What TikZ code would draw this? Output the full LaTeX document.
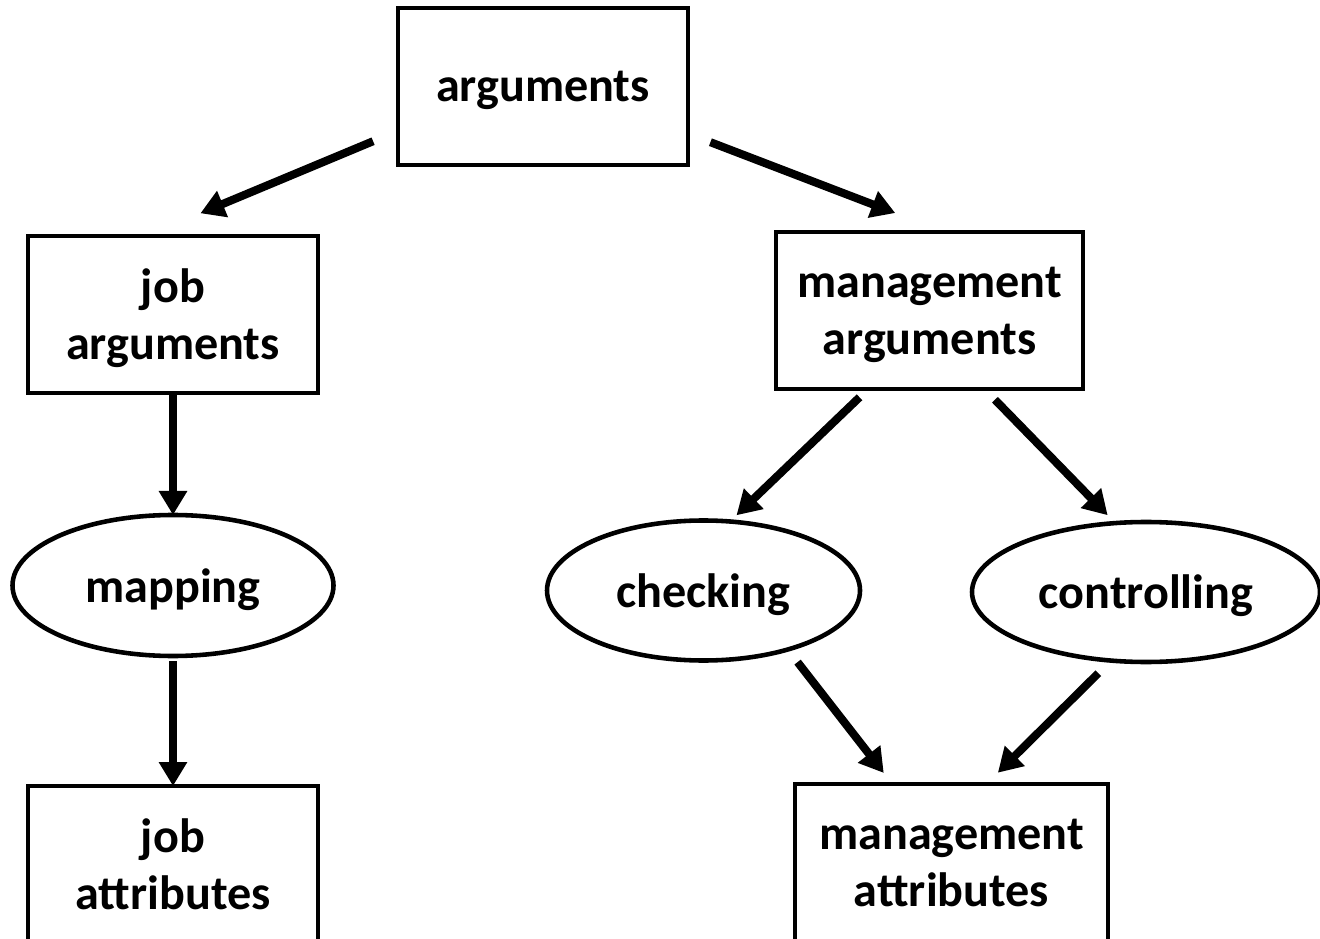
\documentclass[tikz,border=0pt]{standalone}
\usepackage{fontspec}
\setmainfont{Carlito}
\usetikzlibrary{arrows.meta,shapes.geometric}

\begin{document}
\begin{tikzpicture}[font=\bfseries\fontsize{13.7}{16.2}\selectfont,
  box/.style={draw,line width=1.3pt,minimum width=2.9cm,minimum height=1.57cm,
    align=center,inner sep=1pt,outer sep=0pt,text depth=0pt},
  oval/.style={draw,ellipse,line width=1.3pt,minimum width=3.2cm,minimum height=1.4cm,
    inner sep=1pt,outer sep=0pt,text depth=0pt},
  arr/.style={-{Triangle[length=2.4mm,width=2.7mm]},line width=2.3pt}]
  \useasboundingbox (0,0) rectangle (13.2,-9.39);
  % top
  \node[box] (args) at (5.43,-0.865) {arguments};
  % second row
  \node[box] (jobargs) at (1.73,-3.145) {job\\arguments};
  \node[box,minimum width=3.07cm] (mgmtargs) at (9.295,-3.105) {management\\arguments};
  % ovals
  \node[oval,minimum width=3.21cm,minimum height=1.41cm] (mapping) at (1.73,-5.855) {mapping};
  \node[oval,minimum width=3.13cm] (checking) at (7.035,-5.905) {checking};
  \node[oval,minimum width=3.48cm] (controlling) at (11.46,-5.92) {controlling};
  % bottom row, cut by the page
  \node[box] (jobattr) at (1.73,-8.645) {job\\attributes};
  \node[box,minimum width=3.13cm] (mgmtattr) at (9.515,-8.625) {management\\attributes};
  % arrows
  \draw[arr,shorten <=0.27cm,shorten >=0.59cm] (args.197) -- (jobargs.109);
  \draw[arr,shorten <=0.24cm,shorten >=0.53cm] (args.342) -- (mgmtargs.79);
  \draw[arr] (jobargs.south) -- (mapping.north);
  \draw[arr,shorten <=0.05cm] (mapping.south) -- (jobattr.north);
  \draw[arr,shorten <=0.12cm,shorten >=0.09cm] (mgmtargs.232) -- (checking.69);
  \draw[arr,shorten <=0.15cm,shorten >=0.11cm] (mgmtargs.305) -- (controlling.114);
  \draw[arr,shorten <=0.16cm,shorten >=0.14cm] (checking.325) -- (mgmtattr.127);
  \draw[arr,shorten <=0.18cm,shorten >=0.16cm] (controlling.243) -- (mgmtattr.66);
\end{tikzpicture}
\end{document}
